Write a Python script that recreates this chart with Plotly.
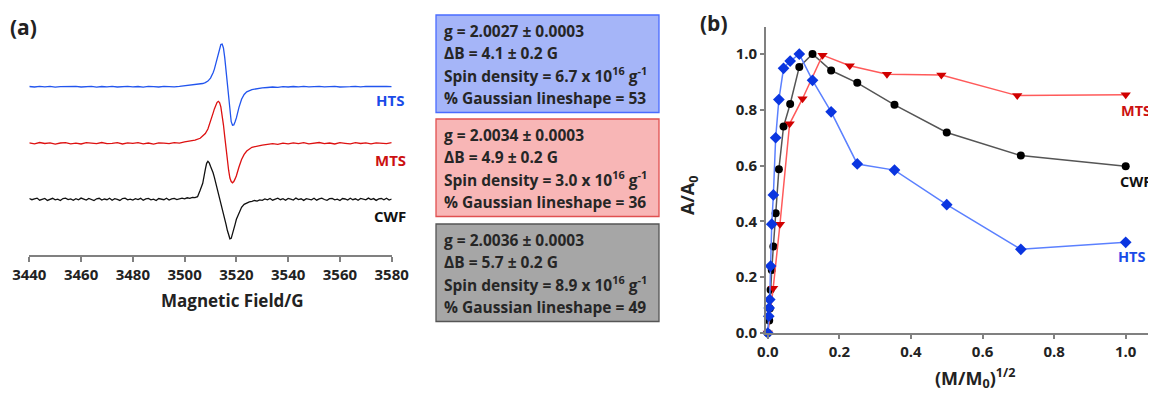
import plotly.graph_objects as go

W, H = 1156, 393
FONT = "Open Sans"
PAGE_OFFSET = 8  # body margin of the html page

# ---------------- Panel (a): EPR spectra ----------------
FIELD = [3440,3442,3444,3446,3448,3450,3452,3454,3456,3458,3460,3462,3464,3466,3468,3470,
         3472,3474,3476,3478,3480,3482,3484,3486,3488,3490,3492,3494,3496,3498,
         3500,3502,3504,3506,3507,3508,3509,3510,3510.5,3511,3511.5,3512,3512.5,3513,3513.5,
         3514,3514.5,3515,3515.5,3516,3516.5,3517,3517.5,3518,3518.5,3519,3519.5,3520,3521,
         3522,3523,3524,3526,3528,
         3530,3532,3534,3536,3538,3540,3542,3544,3546,3548,3550,3552,3554,3556,3558,3560,
         3562,3564,3566,3568,3570,3572,3574,3576,3578,3580]

HTS_SPEC = [0.2,-0.3,0.4,-0.1,0.3,-0.4,0.1,0.3,-0.2,0.4,-0.3,0.0,0.3,-0.4,0.2,-0.1,0.4,-0.3,0.1,0.3,
            -0.2,0.2,-0.4,0.3,0.0,-0.3,0.4,0.1,-0.2,0.3,
            0.9,1.1,1.6,2.5,3.2,4.1,5.6,8.6,10.8,13.9,17.6,22.8,28.8,34.4,38.7,
            42.1,42.6,38.7,29.0,16.0,0.0,-14.8,-26.5,-35.0,-38.6,-38.2,-35.0,-31.2,-20.7,
            -12.6,-7.8,-5.1,-2.9,-1.8,
            -1.2,-0.8,-0.3,-0.6,0.1,-0.3,0.2,-0.2,0.3,-0.1,0.2,0.4,-0.2,0.1,0.3,-0.3,
            0.2,0.0,0.4,-0.2,0.3,0.1,-0.3,0.2,0.4,0.0]

MTS_SPEC = [0.5,-0.6,0.8,-0.2,0.4,-0.8,0.3,0.7,-0.5,0.1,-0.7,0.6,0.2,-0.4,0.8,-0.3,0.0,0.6,-0.7,0.4,
            -0.1,0.7,-0.5,0.3,-0.8,0.5,0.1,-0.4,0.6,0.2,
            1.5,2.1,3.2,5.0,6.9,9.7,14.3,21.4,25.8,30.2,34.4,37.8,40.7,42.0,40.7,
            36.5,28.6,18.5,6.7,-6.3,-17.4,-26.9,-34.8,-38.3,-39.5,-38.3,-35.6,-32.4,-23.7,
            -16.2,-11.1,-7.7,-4.0,-2.7,
            -1.8,-1.1,-0.4,-1.0,0.2,-0.6,0.5,-0.3,0.7,-0.5,0.2,0.8,-0.4,0.3,-0.7,0.6,
            0.0,-0.5,0.7,-0.2,0.4,-0.6,0.5,0.1,-0.3,0.6]

# CWF is noisier, so it is sampled on a finer field grid
CWF_FIELD = (list(range(3440, 3506)) +
             [3506,3507,3508,3508.5,3509,3509.5,3510,3510.5,3511,3511.5,3512,3512.5,3513,3513.5,
              3514,3514.5,3515,3515.5,3516,3516.5,3517,3517.5,3518,3518.5,3519,3519.5,3520,
              3521,3522,3523,3524,3525] +
             list(range(3526, 3581)))
CWF_SPEC = [0.8,-0.4,0.5,1.2,-0.9,-0.2,0.9,-1.1,0.3,1.0,-0.6,0.1,-1.2,0.7,1.1,-0.3,0.4,-1.0,0.6,-0.5,
            1.2,0.2,-0.8,0.9,-0.1,-1.2,0.5,1.0,-0.7,0.3,-0.4,1.1,-0.9,0.6,0.0,-1.1,0.8,1.2,-0.5,0.2,
            -0.8,0.7,-0.2,1.0,-1.0,0.4,0.9,-0.6,0.1,-1.2,0.8,0.3,-0.4,1.1,-0.7,0.5,0.9,-0.3,0.6,1.2,
            0.4,1.5,0.9,2.0,1.6,2.6,
            9.0,16.0,30.0,36.0,38.0,36.5,33.0,30.0,26.5,22.0,17.0,12.0,7.0,2.0,
            -3.0,-8.5,-14.0,-19.5,-25.0,-31.0,-36.0,-39.5,-39.0,-35.0,-30.0,-25.0,-20.0,
            -13.0,-8.0,-5.0,-3.5,-2.5,
            -2.0,-1.2,-1.8,-0.6,-1.0,0.3,-0.5,0.8,-0.9,0.2,1.1,-0.4,0.6,-1.0,0.9,0.1,-0.7,1.2,-0.3,0.5,
            -1.1,0.7,0.2,-0.6,1.0,-0.9,0.4,1.2,-0.2,-1.0,0.6,0.9,-0.5,0.1,-1.2,0.8,0.3,-0.7,1.1,-0.4,
            0.5,-1.0,0.9,0.0,-0.6,1.2,-0.3,0.7,-1.1,0.4,0.8,-0.5,1.0,-0.8,0.3]

SAMPLES = ["HTS", "MTS", "CWF"]
SPEC_FIELDS = [FIELD, FIELD, CWF_FIELD]
SPECTRA = [HTS_SPEC, MTS_SPEC, CWF_SPEC]
FIELD_TICKS = [3440, 3460, 3480, 3500, 3520, 3540, 3560, 3580]

# box contents
G_VALUES = ["2.0027", "2.0034", "2.0036"]
DELTA_B = ["4.1", "4.9", "5.7"]
SPIN_DENSITY = ["6.7", "3.0", "8.9"]
GAUSS_PCT = ["53", "36", "49"]

# ---------------- Panel (b): saturation curves ----------------
HTS_X = [0, 0.0028, 0.0039, 0.0055, 0.0078, 0.011, 0.0156, 0.022, 0.031, 0.044, 0.0625, 0.088,
         0.125, 0.177, 0.25, 0.354, 0.5, 0.707, 1.0]
HTS_Y = [0, 0.06, 0.09, 0.12, 0.24, 0.39, 0.495, 0.70, 0.837, 0.949, 0.975, 1.0,
         0.906, 0.793, 0.606, 0.584, 0.46, 0.30, 0.325]
CWF_X = [0, 0.0039, 0.0055, 0.0078, 0.011, 0.0156, 0.022, 0.031, 0.044, 0.0625, 0.088, 0.125,
         0.177, 0.25, 0.354, 0.5, 0.707, 1.0]
CWF_Y = [0, 0.045, 0.088, 0.155, 0.226, 0.31, 0.429, 0.587, 0.74, 0.821, 0.954, 1.0,
         0.941, 0.897, 0.818, 0.719, 0.636, 0.598]
MTS_X = [0, 0.015, 0.034, 0.061, 0.097, 0.153, 0.229, 0.333, 0.485, 0.697, 1.0]
MTS_Y = [0, 0.16, 0.39, 0.75, 0.84, 0.996, 0.958, 0.928, 0.925, 0.851, 0.854]


def px(x):
    return (x - PAGE_OFFSET) / W


def py(y):
    return 1 - (y - PAGE_OFFSET) / H


SPEC_COL = {"HTS": "#2255ee", "MTS": "#dd1111", "CWF": "#111111"}
OFFSETS = {"HTS": 168.3, "MTS": 111.7, "CWF": 55.7}

fig = go.Figure()

for name, fld, spec in zip(SAMPLES, SPEC_FIELDS, SPECTRA):
    fig.add_trace(go.Scatter(
        x=fld, y=[OFFSETS[name] + v for v in spec], mode="lines",
        line=dict(color=SPEC_COL[name], width=1.3), xaxis="x", yaxis="y",
        showlegend=False, hoverinfo="skip"))

# panel b traces
fig.add_trace(go.Scatter(x=CWF_X, y=CWF_Y, mode="lines+markers", xaxis="x2", yaxis="y2",
                         line=dict(color="#555555", width=1.5),
                         marker=dict(symbol="circle", size=8, color="#000000"),
                         cliponaxis=False, showlegend=False))
fig.add_trace(go.Scatter(x=MTS_X, y=MTS_Y, mode="lines+markers", xaxis="x2", yaxis="y2",
                         line=dict(color="#ff5a5a", width=1.5),
                         marker=dict(symbol="triangle-down", size=9, color="#d00000"),
                         cliponaxis=False, showlegend=False))
fig.add_trace(go.Scatter(x=HTS_X, y=HTS_Y, mode="lines+markers", xaxis="x2", yaxis="y2",
                         line=dict(color="#5b80ff", width=1.5),
                         marker=dict(symbol="diamond", size=9, color="#0a35e0"),
                         cliponaxis=False, showlegend=False))

tickfont = dict(family=FONT, size=15, color="#222222", weight="bold")

fig.update_layout(
    template="none",
    width=W, height=H, margin=dict(l=0, r=0, t=0, b=0, pad=0, autoexpand=False),
    paper_bgcolor="white", plot_bgcolor="white", showlegend=False,
    xaxis=dict(domain=[px(29.3), px(391.7)], range=[3440, 3580], tickvals=FIELD_TICKS,
               showgrid=False, zeroline=False, showline=True, linecolor="#808080", linewidth=1.5,
               ticks="outside", ticklen=5, tickcolor="#808080", tickwidth=1.5,
               tickfont=tickfont, anchor="y", automargin=False),
    yaxis=dict(domain=[py(255), py(30)], range=[0, 225], visible=False, anchor="x",
               automargin=False),
    xaxis2=dict(domain=[px(766), 1.0], range=[-0.005, 1.107], tickvals=[0, 0.2, 0.4, 0.6, 0.8, 1.0],
                tickformat=".1f", showgrid=False, zeroline=False, showline=True,
                linecolor="#808080", linewidth=1.8, ticks="outside", ticklen=4,
                tickcolor="#808080", tickwidth=1.5, tickfont=tickfont, anchor="y2",
                automargin=False),
    yaxis2=dict(domain=[py(333), py(27)], range=[0, 1.097], tickvals=[0, 0.2, 0.4, 0.6, 0.8, 1.0],
                tickformat=".1f", showgrid=False, zeroline=False, showline=True,
                linecolor="#808080", linewidth=1.8, ticks="outside", ticklen=4,
                tickcolor="#808080", tickwidth=1.5, tickfont=tickfont, anchor="x2",
                automargin=False),
)

ann = []


def add_text(x, y, text, size=15, color="#222222", xanchor="center", angle=0):
    ann.append(dict(x=px(x), y=py(y), xref="paper", yref="paper", text=text, showarrow=False,
                    xanchor=xanchor, yanchor="middle", textangle=angle,
                    font=dict(family=FONT, size=size, color=color, weight="bold")))


add_text(23, 27, "(a)", size=21)
add_text(714, 23, "(b)", size=21)
add_text(232, 300, "Magnetic Field/G", size=17)

# sample labels panel a
add_text(390, 100, "HTS", size=15, color="#1a4be8")
add_text(390, 160, "MTS", size=15, color="#cc1111")
add_text(390, 216, "CWF", size=15, color="#111111")

# sample labels panel b
add_text(1136, 110, "MTS", size=14.5, color="#cc1111")
add_text(1135, 181, "CWF", size=14.5, color="#111111")
add_text(1131, 257, "HTS", size=14.5, color="#1a4be8")

# axis titles panel b
add_text(688, 196, "A/A<sub>0</sub>", size=18, angle=-90)
add_text(975, 378, "(M/M<sub>0</sub>)<sup>1/2</sup>", size=18)

# boxes
BOX_TOPS = [15, 119, 224]
BOX_FILL = ["#a5b5f8", "#f8b6b6", "#a6a6a6"]
BOX_LINE = ["#4a6cff", "#e05050", "#555555"]
shapes = []
for i in range(3):
    top = BOX_TOPS[i]
    shapes.append(dict(type="rect", xref="paper", yref="paper",
                       x0=px(436), x1=px(659), y0=py(top + 97.5), y1=py(top),
                       fillcolor=BOX_FILL[i], line=dict(color=BOX_LINE[i], width=1.3),
                       layer="below"))
    lines = [
        f"g = {G_VALUES[i]} ± 0.0003",
        f"ΔB = {DELTA_B[i]} ± 0.2 G",
        f"Spin density = {SPIN_DENSITY[i]} x 10<sup>16</sup> g<sup>-1</sup>",
        f"% Gaussian lineshape = {GAUSS_PCT[i]}",
    ]
    for j, t in enumerate(lines):
        add_text(442, top + 16 + 22.2 * j, t, size=15.5, color="#262626", xanchor="left")

fig.update_layout(annotations=ann, shapes=shapes)
fig.write_html("out.html")
